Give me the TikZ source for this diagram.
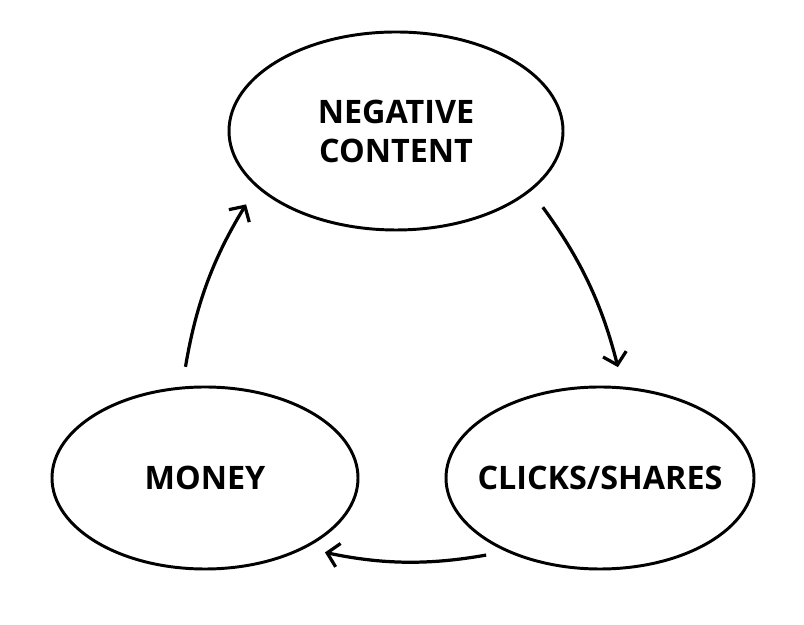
\documentclass[tikz,border=0pt]{standalone}
\usepackage{fontspec}
\setmainfont{Open Sans}
\usetikzlibrary{arrows.meta,shapes.geometric}

\begin{document}
\begin{tikzpicture}[
        bubble/.style={draw, ellipse, line width=2.1pt, inner ysep=0pt, inner xsep=-1.5cm, align=center,
            font=\fontsize{23}{27.7}\selectfont\bfseries},
        feedback/.style={-{Straight Barb[length=8pt,width=17pt]}, line width=2.3pt,
            bend left=11, shorten <=0.5cm, shorten >=0.5cm}
    ]

            \useasboundingbox (0,0) rectangle (20.1,15.625);

            \node[bubble, minimum width=8.35cm, minimum height=4.95cm] (negative) at (9.9,12.35) {NEGATIVE\\CONTENT};
            \node[bubble, minimum width=7.65cm, minimum height=4.55cm] (money) at (5.125,3.675) {MONEY};
            \node[bubble, minimum width=7.7cm, minimum height=4.55cm] (clicks) at (15.0,3.675) {CLICKS/SHARES};

            \draw[feedback] (negative.-24.6) to (clicks.76);
            \draw[feedback] (clicks.218.2) to (money.-35.5);
            \draw[feedback] (money.104.6) to (negative.202.4);

        \end{tikzpicture}
\end{document}
